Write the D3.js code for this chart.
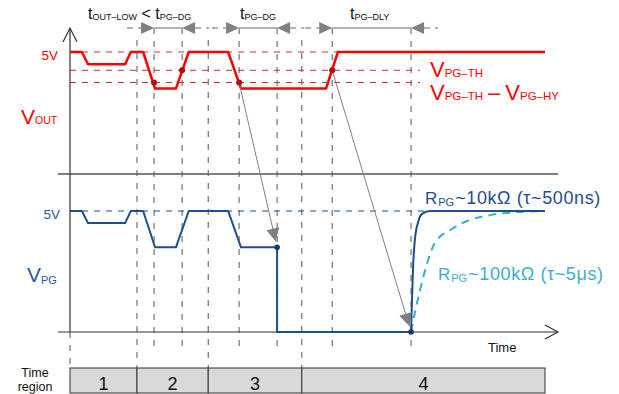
<!DOCTYPE html>
<html>
<head>
<meta charset="utf-8">
<script src="https://cdn.jsdelivr.net/npm/d3@7"></script>
<style>
body { margin:0; background:#fff; }
svg { font-family: "Liberation Sans", Arial, sans-serif; }
</style>
</head>
<body>
<div id="chart"></div>
<script>
// time in arbitrary units (0..100), voltages in V
var redT    = [0, 2.5, 3.8, 11.6, 12.8, 15.4, 17.9, 22.3, 25.0, 33.3, 36.0, 53.9, 56.4, 100];
var redV    = [5, 5, 4.5, 4.5, 5, 5, 3.5, 3.5, 5, 5, 3.5, 3.5, 5, 5];
var blueT   = [0, 2.5, 3.8, 11.6, 12.8, 15.4, 17.9, 22.3, 25.0, 33.3, 36.0, 43.6, 43.6, 71.8];
var blueV   = [5, 5, 4.5, 4.5, 5, 5, 3.5, 3.5, 5, 5, 3.5, 3.5, 0, 0];
var fastT   = [71.8, 72.0, 72.2, 72.6, 73.3, 74.1, 75.8, 100];
var fastV   = [0, 1.3, 2.56, 3.8, 4.55, 4.88, 5, 5];
var slowT   = [71.8, 72.6, 73.7, 75.2, 76.8, 80.0, 84.2, 88.4, 94.7, 100];
var slowV   = [0, 0.79, 1.74, 2.85, 3.68, 4.21, 4.63, 4.83, 4.96, 5];
var thresholds = [5, 4.25, 3.75];
var eventT  = [14.1, 17.7, 23.6, 29.1, 35.6, 43.6, 48.8, 55.2, 71.8];
var regionEdges  = [0, 14.1, 29.1, 48.8, 100];
var regionLabels = ["1", "2", "3", "4"];
var redDots  = [[17.7, 3.75], [23.6, 4.25], [35.6, 3.75], [55.2, 4.25]];
var blueDots = [[43.6, 3.5], [71.8, 0]];
var spans = [[17.7, 23.6], [35.6, 43.6], [55.2, 71.8]];
var links = [[35.6, 3.75, 43.6, 3.5], [55.2, 4.25, 71.8, 0]];

var W = 619, H = 394;
var svg = d3.select("#chart").append("svg").attr("width", W).attr("height", H);

var x = d3.scaleLinear().domain([0, 100]).range([70, 545]);
var yTop = d3.scaleLinear().domain([0, 5]).range([174, 52]);
var yBot = d3.scaleLinear().domain([0, 5]).range([332, 211]);

var RED = "#ff0000", DRED = "#c8322e", BLUE = "#1f4e8c", LBLUE = "#3aaecb", GREY = "#808080", AX = "#333";

svg.append("defs").append("marker")
  .attr("id", "head").attr("viewBox", "0 0 10 10").attr("refX", 10).attr("refY", 5)
  .attr("markerWidth", 15).attr("markerHeight", 13).attr("markerUnits", "userSpaceOnUse")
  .attr("orient", "auto")
  .append("path").attr("d", "M0,0L10,5L0,10Z").attr("fill", GREY);

// parts: [text, size, dy, dx, letterSpacing]
function txt(xp, yp, parts, color, anchor) {
  var t = svg.append("text").attr("x", xp).attr("y", yp).attr("fill", color)
    .attr("text-anchor", anchor || "start");
  parts.forEach(function(p) {
    var s = t.append("tspan").attr("font-size", p[1]).attr("dy", p[2] || 0).text(p[0]);
    if (p[3]) s.attr("dx", p[3]);
    if (p[4]) s.attr("letter-spacing", p[4]);
  });
  return t;
}

// vertical dashed event lines
var spanEnds = [].concat.apply([], spans);
eventT.forEach(function(t) {
  var isEdge = regionEdges.indexOf(t) >= 0;
  var isTip = spanEnds.indexOf(t) >= 0;
  svg.append("line").attr("x1", x(t)).attr("x2", x(t))
    .attr("y1", isTip ? 28 : 40).attr("y2", isEdge ? 368 : 346)
    .attr("stroke", "#555").attr("stroke-dasharray", "6,7");
});
svg.append("line").attr("x1", x(0)).attr("x2", x(0)).attr("y1", 332).attr("y2", 368)
  .attr("stroke", "#555").attr("stroke-dasharray", "6,7");

// threshold dashed lines
thresholds.forEach(function(v) {
  svg.append("line").attr("x1", x(0)).attr("x2", 420).attr("y1", yTop(v)).attr("y2", yTop(v))
    .attr("stroke", DRED).attr("stroke-dasharray", "6,6");
});
svg.append("line").attr("x1", x(0)).attr("x2", x(100)).attr("y1", yBot(5)).attr("y2", yBot(5))
  .attr("stroke", BLUE).attr("stroke-dasharray", "6,6");

// axes
svg.append("line").attr("x1", 58).attr("x2", 558).attr("y1", yTop(0)).attr("y2", yTop(0))
  .attr("stroke", "#555").attr("stroke-width", 1.5);
svg.append("line").attr("x1", 58).attr("x2", 558).attr("y1", yBot(0)).attr("y2", yBot(0))
  .attr("stroke", AX).attr("stroke-width", 1.2);
svg.append("line").attr("x1", x(0)).attr("x2", x(0)).attr("y1", 28).attr("y2", yBot(0))
  .attr("stroke", AX).attr("stroke-width", 1.2);
svg.append("path").attr("d", "M63,42L70,28L77,42").attr("fill", "none").attr("stroke", AX).attr("stroke-width", 1.2);
svg.append("path").attr("d", "M545,325L558,332L545,339").attr("fill", "none").attr("stroke", AX).attr("stroke-width", 1.2);

// timing spans at top
var ay = 28;
spans.forEach(function(s) {
  var a = x(s[0]), b = x(s[1]);
  svg.append("line").attr("x1", a).attr("x2", b).attr("y1", ay).attr("y2", ay).attr("stroke", "#999").attr("stroke-width", 1.5);
  svg.append("line").attr("x1", a - 27).attr("x2", a - 13).attr("y1", ay).attr("y2", ay)
    .attr("stroke", "#999").attr("stroke-width", 1.5).attr("stroke-dasharray", "6,5");
  svg.append("line").attr("x1", b + 13).attr("x2", b + 27).attr("y1", ay).attr("y2", ay)
    .attr("stroke", "#999").attr("stroke-width", 1.5).attr("stroke-dasharray", "6,5");
  svg.append("path").attr("d", "M" + (a - 13) + "," + (ay - 6) + "L" + a + "," + ay + "L" + (a - 13) + "," + (ay + 6) + "Z").attr("fill", GREY);
  svg.append("path").attr("d", "M" + (b + 13) + "," + (ay - 6) + "L" + b + "," + ay + "L" + (b + 13) + "," + (ay + 6) + "Z").attr("fill", GREY);
});

// waveforms
var line = function(ys) {
  return d3.line().x(function(d) { return x(d[0]); }).y(function(d) { return ys(d[1]); });
};
svg.append("path").datum(d3.zip(redT, redV)).attr("d", line(yTop))
  .attr("fill", "none").attr("stroke", RED).attr("stroke-width", 2.5).attr("stroke-linejoin", "round");
svg.append("path").datum(d3.zip(slowT, slowV)).attr("d", line(yBot).curve(d3.curveMonotoneX))
  .attr("fill", "none").attr("stroke", LBLUE).attr("stroke-width", 2).attr("stroke-dasharray", "8,6");
svg.append("path").datum(d3.zip(blueT, blueV)).attr("d", line(yBot))
  .attr("fill", "none").attr("stroke", BLUE).attr("stroke-width", 2).attr("stroke-linejoin", "round");
svg.append("path").datum(d3.zip(fastT, fastV)).attr("d", line(yBot).curve(d3.curveMonotoneX))
  .attr("fill", "none").attr("stroke", BLUE).attr("stroke-width", 2);

// link arrows
links.forEach(function(l) {
  var x1 = x(l[0]), y1 = yTop(l[1]), x2 = x(l[2]), y2 = yBot(l[3]);
  var len = Math.hypot(x2 - x1, y2 - y1);
  var k = (len - 6) / len;
  svg.append("line").attr("x1", x1).attr("y1", y1)
    .attr("x2", x1 + (x2 - x1) * k).attr("y2", y1 + (y2 - y1) * k)
    .attr("stroke", GREY).attr("stroke-width", 1).attr("marker-end", "url(#head)");
});

svg.selectAll(".rdot").data(redDots).enter().append("circle")
  .attr("cx", function(d) { return x(d[0]); }).attr("cy", function(d) { return yTop(d[1]); })
  .attr("r", 3).attr("fill", "#b01010");
svg.selectAll(".bdot").data(blueDots).enter().append("circle")
  .attr("cx", function(d) { return x(d[0]); }).attr("cy", function(d) { return yBot(d[1]); })
  .attr("r", 2.8).attr("fill", "#173a66");

// time region bar
var bar = svg.append("g");
d3.range(4).forEach(function(i) {
  var a = x(regionEdges[i]), b = x(regionEdges[i + 1]);
  bar.append("rect").attr("x", a).attr("y", 368).attr("width", b - a).attr("height", 25)
    .attr("fill", "#d9d9d9").attr("stroke", "#333").attr("stroke-width", 1);
  bar.append("text").attr("x", (a + b) / 2).attr("y", 389.5).attr("text-anchor", "middle")
    .attr("font-size", 18).attr("fill", "#111").text(regionLabels[i]);
});
txt(35, 377, [["Time", 12.5]], "#111", "middle");
txt(35, 391, [["region", 12.5]], "#111", "middle");

// labels
txt(58, 60, [["5V", 13.5]], RED, "end");
txt(21, 123.5, [["V", 21], ["OUT", 10.5, 0.5]], RED);
txt(430, 76.5, [["V", 22], ["PG\u2013TH", 11.5, 0.5]], RED);
txt(430, 99.5, [["V", 22], ["PG\u2013TH", 11.5, 0.5], ["\u2013", 22, -0.5, 5], ["V", 22, 0, 5], ["PG\u2013HY", 11.5, 0.5]], RED);
txt(60, 219, [["5V", 13.5]], "#2e5a93", "end");
txt(27, 282, [["V", 21], ["PG", 11, 1.5]], "#2e5a93");
txt(425, 204, [["R", 17], ["PG", 11, 1.5, 1], ["~10k\u03a9 (\u03c4~500ns)", 18, -1.5, 1, 0.6]], BLUE);
txt(438, 280, [["R", 17], ["PG", 11, 1.5, 1], ["~100k\u03a9 (\u03c4~5\u03bcs)", 18, -1.5, 1, 0.6]], LBLUE);
txt(488, 352, [["Time", 13]], "#111");

txt(88, 19, [["t", 16], ["OUT\u2013LOW", 9, 1], [" < t", 16, -1], ["PG\u2013DG", 9, 1]], "#111");
txt(240, 19, [["t", 16], ["PG\u2013DG", 9, 1]], "#111");
txt(350, 19, [["t", 16], ["PG\u2013DLY", 9, 1]], "#111");
</script>
</body>
</html>
